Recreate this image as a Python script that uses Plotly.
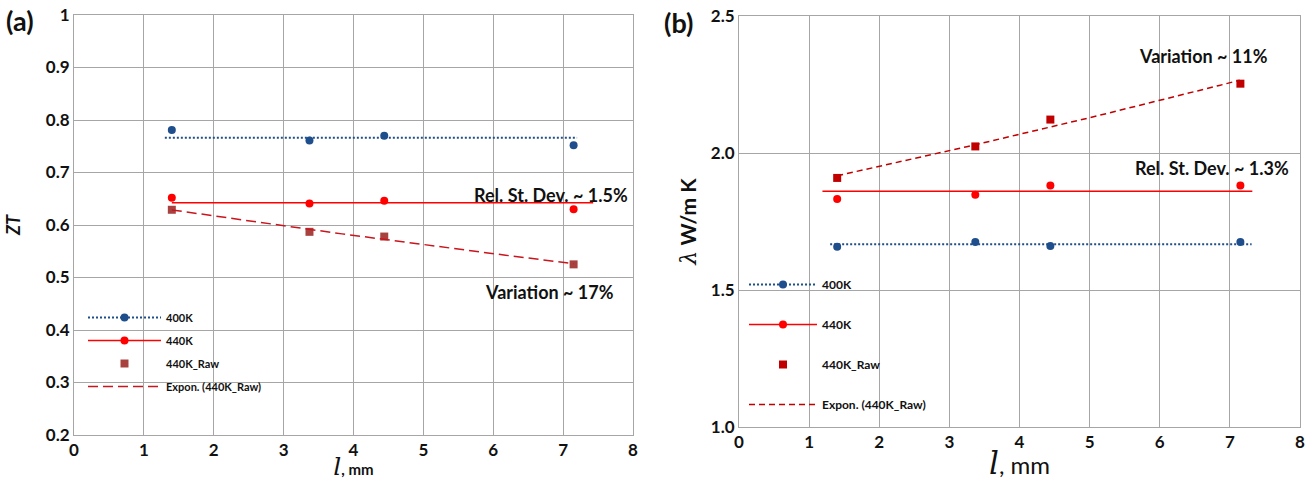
import numpy as np
import plotly.graph_objects as go

# ---------------- data ----------------
l_mm = [1.40, 3.37, 4.44, 7.15]

# panel (a): ZT
zt_400K = [0.781, 0.761, 0.770, 0.752]
zt_440K = [0.652, 0.641, 0.646, 0.630]
zt_440K_raw = [0.629, 0.587, 0.578, 0.525]
zt_span_400K = [1.30, 7.20]
zt_span_440K = [1.40, 7.43]
zt_span_raw = [1.40, 7.15]

# panel (b): thermal conductivity
lam_400K = [1.658, 1.675, 1.661, 1.675]
lam_440K = [1.832, 1.848, 1.881, 1.881]
lam_440K_raw = [1.909, 2.024, 2.122, 2.253]
lam_span_400K = [1.30, 7.31]
lam_span_440K = [1.19, 7.32]
lam_span_raw = [1.40, 7.14]

x_ticks = [0, 1, 2, 3, 4, 5, 6, 7, 8]
zt_ticks = [0.2, 0.3, 0.4, 0.5, 0.6, 0.7, 0.8, 0.9, 1.0]
zt_tick_labels = ["0.2", "0.3", "0.4", "0.5", "0.6", "0.7", "0.8", "0.9", "1"]
lam_ticks = [1.0, 1.5, 2.0, 2.5]
lam_tick_labels = ["1.0", "1.5", "2.0", "2.5"]

legend_names = ["400K", "440K", "440K_Raw", "Expon. (440K_Raw)"]
notes_a = ["Rel. St. Dev. ~ 1.5%", "Variation ~ 17%"]
notes_b = ["Variation ~ 11%", "Rel. St. Dev. ~ 1.3%"]

# ---------------- styles ----------------
BLUE = "#1F4E8C"
RED = "#FF0000"
RAW_A = "#A8423F"
RAW_B = "#C00000"
DASH_A = "#C8161E"
GRID = "#A6A6A6"
FONT = "Lato"
SERIF = "DejaVu Serif"


def gapped(v):
    out = []
    for i, a in enumerate(v):
        if i:
            out.append(None)
        out.append(a)
    return out


def exp_fit(x, y, span):
    b, ln_a = np.polyfit(np.array(x), np.log(np.array(y)), 1)
    xs = np.linspace(span[0], span[1], 60)
    return xs, np.exp(ln_a) * np.exp(b * xs)


fig = go.Figure()


def add_panel(xa, ya, leg, y400, y440, yraw, s400, s440, sraw, raw_color, dash_color, dash_pat):
    m400 = float(np.mean(y400))
    m440 = float(np.mean(y440))
    fig.add_trace(go.Scatter(
        x=gapped(l_mm), y=gapped(y400), mode="lines+markers", connectgaps=False,
        name=legend_names[0], legend=leg, legendgroup=leg + "g1",
        line=dict(color=BLUE, width=2, dash="2px,2px"),
        marker=dict(color=BLUE, size=8, symbol="circle"),
        xaxis=xa, yaxis=ya))
    fig.add_trace(go.Scatter(
        x=gapped(l_mm), y=gapped(y440), mode="lines+markers", connectgaps=False,
        name=legend_names[1], legend=leg, legendgroup=leg + "g2",
        line=dict(color=RED, width=1.5),
        marker=dict(color=RED, size=8, symbol="circle"),
        xaxis=xa, yaxis=ya))
    fig.add_trace(go.Scatter(
        x=l_mm, y=yraw, mode="markers",
        name=legend_names[2], legend=leg, legendgroup=leg + "g3",
        marker=dict(color=raw_color, size=8, symbol="square"),
        xaxis=xa, yaxis=ya))
    ex, ey = exp_fit(l_mm, yraw, sraw)
    fig.add_trace(go.Scatter(
        x=ex, y=ey, mode="lines",
        name=legend_names[3], legend=leg, legendgroup=leg + "g4",
        line=dict(color=dash_color, width=1.5, dash=dash_pat),
        xaxis=xa, yaxis=ya))
    fig.add_trace(go.Scatter(
        x=s400, y=[m400, m400], mode="lines", showlegend=False,
        line=dict(color=BLUE, width=2, dash="2px,2px"), xaxis=xa, yaxis=ya))
    fig.add_trace(go.Scatter(
        x=s440, y=[m440, m440], mode="lines", showlegend=False,
        line=dict(color=RED, width=1.5), xaxis=xa, yaxis=ya))


add_panel("x", "y", "legend", zt_400K, zt_440K, zt_440K_raw,
          zt_span_400K, zt_span_440K, zt_span_raw, RAW_A, DASH_A, "10px,5px")
add_panel("x2", "y2", "legend2", lam_400K, lam_440K, lam_440K_raw,
          lam_span_400K, lam_span_440K, lam_span_raw, RAW_B, RAW_B, "6px,4px")

axis_common = dict(
    showgrid=True, gridcolor=GRID, gridwidth=1,
    showline=True, linecolor=GRID, linewidth=1, mirror=True,
    zeroline=False, ticks="", automargin=False,
    tickfont=dict(family=FONT, size=17, color="#111", weight="bold"),
)

fig.update_layout(
    width=1316, height=481,
    margin=dict(l=0, r=0, t=0, b=0),
    paper_bgcolor="white", plot_bgcolor="white",
    font=dict(family=FONT, color="#111"),
    xaxis=dict(axis_common, domain=[74 / 1316, 633 / 1316], range=[0, 8],
               tickvals=x_ticks, anchor="y",
               title=dict(text=f'<span style="font-family:{SERIF};font-size:25px;font-weight:normal"><i>l</i></span>'
                               f'<span style="font-size:15px">, mm</span>',
                          standoff=0, font=dict(family=FONT, size=15, weight="bold"))),
    yaxis=dict(axis_common, domain=[1 - 435 / 481, 1 - 15 / 481], range=[0.2, 1.0],
               tickvals=zt_ticks, ticktext=zt_tick_labels, anchor="x",
               title=dict(text="<i>ZT</i>", standoff=20,
                          font=dict(family=FONT, size=18, weight="bold"))),
    xaxis2=dict(axis_common, domain=[739 / 1316, 1300 / 1316], range=[0, 8],
                tickvals=x_ticks, anchor="y2",
                title=dict(text=f'<span style="font-family:{SERIF};font-size:31px;font-weight:normal"><i>l</i></span>'
                                f'<span style="font-size:24px">, mm</span>',
                           standoff=0, font=dict(family=FONT, size=24))),
    yaxis2=dict(axis_common, domain=[1 - 427 / 481, 1 - 16 / 481], range=[1.0, 2.5],
                tickvals=lam_ticks, ticktext=lam_tick_labels, anchor="x2",
                title=dict(text=f'<span style="font-family:{SERIF};font-size:22px;font-weight:normal"><i>λ</i></span> W/m K',
                           standoff=8, font=dict(family=FONT, size=21, weight="bold"))),
    legend=dict(x=83 / 1316, y=1 - 303 / 481, xanchor="left", yanchor="top",
                bgcolor="rgba(0,0,0,0)", itemwidth=73, tracegroupgap=4,
                font=dict(family=FONT, size=11, color="#111", weight="bold")),
    legend2=dict(x=744 / 1316, y=1 - 270 / 481, xanchor="left", yanchor="top",
                 bgcolor="rgba(0,0,0,0)", itemwidth=68, tracegroupgap=21,
                 font=dict(family=FONT, size=12, color="#111", weight="bold")),
)

note_font = dict(family=FONT, size=18, color="#111", weight="bold")
fig.add_annotation(x=5.70, y=0.657, xref="x", yref="y", text=notes_a[0], showarrow=False,
                   xanchor="left", yanchor="middle", font=note_font)
fig.add_annotation(x=5.86, y=0.472, xref="x", yref="y", text=notes_a[1], showarrow=False,
                   xanchor="left", yanchor="middle", font=note_font)
fig.add_annotation(x=5.68, y=2.355, xref="x2", yref="y2", text=notes_b[0], showarrow=False,
                   xanchor="left", yanchor="middle", font=note_font)
fig.add_annotation(x=5.62, y=1.946, xref="x2", yref="y2", text=notes_b[1], showarrow=False,
                   xanchor="left", yanchor="middle", font=note_font)

panel_font = dict(family=FONT, size=27, color="#111", weight="bold")
fig.add_annotation(x=4 / 1316, y=1 - 20 / 481, xref="paper", yref="paper", text="(a)",
                   showarrow=False, xanchor="left", yanchor="middle", font=panel_font)
fig.add_annotation(x=662 / 1316, y=1 - 22 / 481, xref="paper", yref="paper", text="(b)",
                   showarrow=False, xanchor="left", yanchor="middle", font=panel_font)

fig.write_html("out.html", config={"displayModeBar": False},
               post_script="document.body.style.margin='0';")
